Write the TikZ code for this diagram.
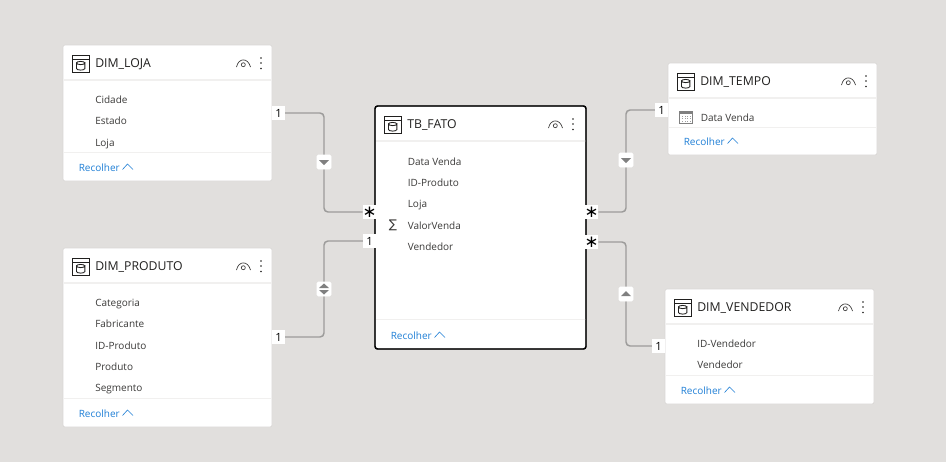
\documentclass[tikz,border=0pt]{standalone}
\usepackage{fontspec}
\setmainfont{Open Sans}
\newfontfamily\symfont{DejaVu Sans}
\usetikzlibrary{backgrounds}
\definecolor{canvas}{HTML}{E1DFDD}
\definecolor{inktext}{HTML}{3B3A39}
\definecolor{inkdark}{HTML}{201F1E}
\definecolor{linkblue}{HTML}{1F7FD6}
\definecolor{relgray}{HTML}{9C9B9A}
\definecolor{rulegray}{HTML}{F1F0EF}
\definecolor{softedge}{HTML}{D9D7D5}
\tikzset{
  x=0.75pt,y=-0.75pt,
  cardbox/.style={fill=white,draw=#1,line width=0.5pt,rounded corners=1.5pt,anchor=north west,inner sep=0pt,outer sep=0pt},
  titletext/.style={anchor=west,inner sep=0pt,text=inkdark,text height=7pt,text depth=2pt,font=\fontsize{9.2}{11}\selectfont},
  rowtext/.style={anchor=west,inner sep=0pt,text=inktext,text height=6pt,text depth=2pt,yshift=-1.2pt,font=\fontsize{7.5}{10}\selectfont},
  linktext/.style={rowtext,text=linkblue},
  badge/.style={fill=white,inner sep=0pt,outer sep=0pt,minimum width=9.75pt,minimum height=10.5pt,text=black,font=\fontsize{8.5}{10}\selectfont},
  starbadge/.style={badge,font=\symfont\fontsize{12.5}{13}\selectfont},
  filterbox/.style={fill=white,draw=white,rounded corners=1pt,inner sep=0pt,outer sep=0pt,minimum width=10.5pt,minimum height=10.5pt},
  rel/.style={draw=relgray,line width=1.1pt,rounded corners=3pt},
  iconline/.style={draw=inkdark,line width=0.65pt},
  thinicon/.style={draw=inktext,line width=0.5pt},
  calicon/.style={draw=gray,line width=0.5pt},
  tri/.style={fill=#1,draw=none},
  focusedge/.style={draw=black,line width=1.1pt,rounded corners=2pt},
}
% \card{name}{x}{y}{w}{h}{header h}{footer offset from bottom}{title}{border}
\newcommand{\card}[9]{%
  \node[cardbox=#9,minimum width=#4*0.75pt,minimum height=#5*0.75pt] (#1) at (#2,#3) {};
  \begin{scope}[shift={(#2,#3)}]
    \fill[rulegray] (0.5,#6-1) rectangle (#4-0.5,#6+1);
    \draw[rulegray,line width=0.4pt] (0.5,#5-#7) -- (#4-0.5,#5-#7);
    % table icon
    \draw[iconline] (9.5,10) rectangle (26,27);
    \draw[iconline] (9.5,14) -- (26,14);
    \draw[iconline] (13.5,18) arc[start angle=180,end angle=0,x radius=4.2,y radius=1.6] -- (21.9,23.5)
      arc[start angle=0,end angle=180,x radius=4.2,y radius=1.6] -- cycle;
    \draw[iconline] (13.5,18) arc[start angle=180,end angle=360,x radius=4.2,y radius=1.6];
    % eye
    \draw[thinicon] (173.5,22) .. controls (175.5,12.5) and (185,12.5) .. (187.5,22);
    \draw[thinicon] (180.3,19.7) circle[radius=2];
    % dots
    \fill[inkdark] (198,13) circle[radius=0.95] (198,18) circle[radius=0.95] (198,23.5) circle[radius=0.95];
    \node[titletext] (#1-title) at (32,18.7) {#8};
    \node[linktext] (#1-collapse) at (15.5,#5-14) {Recolher};
    \draw[draw=linkblue,line width=0.45pt] (59.5,#5-11.5) -- (64.5,#5-17) -- (70,#5-11.5);
  \end{scope}
}
\newcommand{\filterdown}[1]{\fill[tri=gray] ([shift={(-5,-2)}]#1.center) -- ([shift={(5,-2)}]#1.center) -- ([shift={(0,3)}]#1.center) -- cycle;}
\newcommand{\filterup}[1]{\fill[tri=gray] ([shift={(-5,2)}]#1.center) -- ([shift={(5,2)}]#1.center) -- ([shift={(0,-3)}]#1.center) -- cycle;}
\begin{document}
\begin{tikzpicture}
\useasboundingbox (0,0) rectangle (946,462);
% cards
\card{loja}{63}{45}{209}{136}{35}{29}{DIM\_LOJA}{softedge}
\card{produto}{63}{248}{209}{179}{35}{29}{DIM\_PRODUTO}{softedge}
\card{fato}{375}{106}{211}{243}{35}{30}{TB\_FATO}{black}
\draw[focusedge] (fato.north west) rectangle (fato.south east);
\card{tempo}{668}{63}{209}{92}{35}{28}{DIM\_TEMPO}{softedge}
\card{vendedor}{665}{289}{209}{115}{35}{29}{DIM\_VENDEDOR}{softedge}
% rows
\node[rowtext] (l1) at (95,99.5) {Cidade};
\node[rowtext] (l2) at (95,120.5) {Estado};
\node[rowtext] (l3) at (95,142) {Loja};
\node[rowtext] (p1) at (95,302) {Categoria};
\node[rowtext] (p2) at (95,323.5) {Fabricante};
\node[rowtext] (p3) at (95,345) {ID-Produto};
\node[rowtext] (p4) at (95,366) {Produto};
\node[rowtext] (p5) at (95,387.5) {Segmento};
\node[rowtext] (f1) at (407.5,161) {Data Venda};
\node[rowtext] (f2) at (407.5,182) {ID-Produto};
\node[rowtext] (f3) at (407.5,203.5) {Loja};
\node[rowtext] (f4) at (407.5,225) {ValorVenda};
\node[rowtext] (f5) at (407.5,246.5) {Vendedor};
\node[inner sep=0pt,text=inktext,font=\symfont\fontsize{9}{10}\selectfont] (sigma) at (393,225.5) {∑};
\node[rowtext] (t1) at (700.5,117) {Data Venda};
\node[rowtext] (v1) at (697,343) {ID-Vendedor};
\node[rowtext] (v2) at (697,364.5) {Vendedor};
% calendar icon
\draw[calicon] (679.5,111) rectangle (692.5,123);
\fill[gray] (679.5,111) rectangle (692.5,113.5);
\foreach \cx in {682,684.5,687,689.5}{\foreach \cy in {115.5,118,120.5}{\fill[gray!75] (\cx,\cy) rectangle (\cx+1.2,\cy+1.2);}}
% badges
\node[badge] (bl) at (278.5,113) {1};
\node[starbadge] (sl) at (369.5,212) {∗};
\node[badge] (bp2) at (369.5,241) {1};
\node[badge] (bp1) at (278.5,337) {1};
\node[starbadge] (st) at (591.5,212) {∗};
\node[starbadge] (sv) at (591.5,242) {∗};
\node[badge] (bt) at (661.5,110) {1};
\node[badge] (bv) at (658.5,346) {1};
% filter direction boxes
\node[filterbox] (fl) at (324,162) {};
\node[filterbox] (fp) at (324,289) {};
\node[filterbox] (ft) at (626,160) {};
\node[filterbox] (fv) at (626,294) {};
\filterdown{fl}
\filterdown{ft}
\filterup{fv}
\fill[tri=gray] ([shift={(-5,-1)}]fp.center) -- ([shift={(5,-1)}]fp.center) -- ([shift={(0,-5.5)}]fp.center) -- cycle;
\fill[tri=gray] ([shift={(-5,1)}]fp.center) -- ([shift={(5,1)}]fp.center) -- ([shift={(0,5.5)}]fp.center) -- cycle;
% connectors and canvas
\begin{scope}[on background layer]
\fill[canvas] (0,0) rectangle (946,462);
\draw[rel] (bl.east) -| (fl.center) |- (sl.west);
\draw[rel] (bp1.east) -| (fp.center) |- (bp2.west);
\draw[rel] (st.east) -| (ft.center) |- (bt.west);
\draw[rel] (sv.east) -| (fv.center) |- (bv.west);
\end{scope}
\end{tikzpicture}
\end{document}
